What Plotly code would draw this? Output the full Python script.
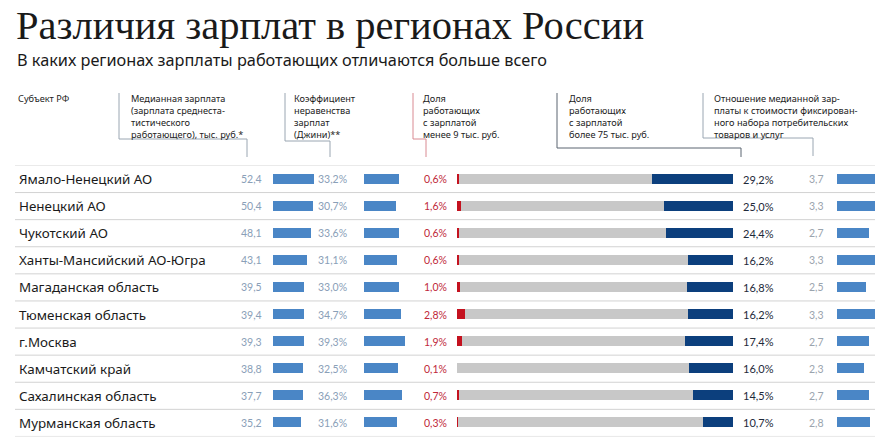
import plotly.graph_objects as go

W, H = 896, 445

regions = ["Ямало-Ненецкий АО", "Ненецкий АО", "Чукотский АО", "Ханты-Мансийский АО-Югра",
           "Магаданская область", "Тюменская область", "г.Москва", "Камчатский край",
           "Сахалинская область", "Мурманская область"]
median_salary = [52.4, 50.4, 48.1, 43.1, 39.5, 39.4, 39.3, 38.8, 37.7, 35.2]
gini = [33.2, 30.7, 33.6, 31.1, 33.0, 34.7, 39.3, 32.5, 36.3, 31.6]
share_below_9 = [0.6, 1.6, 0.6, 0.6, 1.0, 2.8, 1.9, 0.1, 0.7, 0.3]
share_above_75 = [29.2, 25.0, 24.4, 16.2, 16.8, 16.2, 17.4, 16.0, 14.5, 10.7]
share_middle = [100 - a - b for a, b in zip(share_below_9, share_above_75)]
ratio_basket = [3.7, 3.3, 2.7, 3.3, 2.5, 3.3, 2.7, 2.3, 2.7, 2.8]

title = "Различия зарплат в регионах России"
subtitle = "В каких регионах зарплаты работающих отличаются больше всего"
headers = [
    (17, ["Субъект РФ"]),
    (130, ["Медианная зарплата", "(зарплата среднеста-", "тистического", "работающего), тыс. руб.*"]),
    (293, ["Коэффициент", "неравенства", "зарплат", "(Джини)**"]),
    (422, ["Доля", "работающих", "с зарплатой", "менее 9 тыс. руб."]),
    (568, ["Доля", "работающих", "с зарплатой", "более 75 тыс. руб."]),
    (713, ["Отношение медианной зар-", "платы к стоимости фиксирован-", "ного набора потребительских", "товаров и услуг"]),
]

LIGHT = "#4a86c6"
DARK = "#0c3f7d"
GRAY = "#c8c8c8"
RED = "#c4121f"

def px(x):
    return x / W

def py(y):
    return 1 - y / H

def fmt(v, pct=False):
    s = f"{v:.1f}".replace(".", ",")
    return s + ("%" if pct else "")

fig = go.Figure()
common = dict(orientation="h", y=regions, width=0.37, hoverinfo="skip", showlegend=False,
              marker_line_width=0)
fig.add_trace(go.Bar(x=median_salary, xaxis="x", yaxis="y", marker_color=LIGHT, **common))
fig.add_trace(go.Bar(x=gini, xaxis="x2", yaxis="y", marker_color=LIGHT, **common))
fig.add_trace(go.Bar(x=share_below_9, xaxis="x3", yaxis="y", marker_color=RED, **common))
fig.add_trace(go.Bar(x=share_middle, xaxis="x3", yaxis="y", marker_color=GRAY, **common))
fig.add_trace(go.Bar(x=share_above_75, xaxis="x3", yaxis="y", marker_color=DARK, **common))
fig.add_trace(go.Bar(x=ratio_basket, xaxis="x4", yaxis="y", marker_color=LIGHT, **common))

row0, step = 179, 27.1
ytop = row0 - step / 2
ybot = row0 + 9.5 * step

hid = dict(visible=False, showgrid=False, zeroline=False, fixedrange=True)
fig.update_layout(
    width=W, height=H, margin=dict(l=0, r=0, t=0, b=0),
    paper_bgcolor="white", plot_bgcolor="rgba(0,0,0,0)",
    barmode="stack", bargap=0,
    xaxis=dict(domain=[px(273), px(323)], range=[0, 50 / 0.785], anchor="y", **hid),
    xaxis2=dict(domain=[px(364), px(414)], range=[0, 50 / 1.055], anchor="y", **hid),
    xaxis3=dict(domain=[px(457), px(733)], range=[0, 100], anchor="y", **hid),
    xaxis4=dict(domain=[px(837), px(875)], range=[0, 38 / 11.7], anchor="y", **hid),
    yaxis=dict(domain=[py(ybot), py(ytop)], range=[9.5, -0.5], type="category",
               categoryorder="array", categoryarray=regions, anchor="x", **hid),
)

ann = []
ann.append(dict(text=title, x=px(15), y=py(25), xref="paper", yref="paper", xanchor="left",
                yanchor="middle", showarrow=False, borderpad=0,
                font=dict(family="Liberation Serif", size=40.5, color="#1a1a1a")))
ann.append(dict(text=subtitle, x=px(16), y=py(60), xref="paper", yref="paper", xanchor="left",
                yanchor="middle", showarrow=False, borderpad=0,
                font=dict(family="Noto Sans", size=16.3, color="#1a1a1a")))

for hx, lines in headers:
    ann.append(dict(text="<br>".join(lines), x=px(hx), y=py(91), xref="paper", yref="paper",
                    xanchor="left", yanchor="top", align="left", showarrow=False, borderpad=0,
                    font=dict(family="Noto Sans", size=9.2, color="#222222")))

vfont = "Lato"
for i, r in enumerate(regions):
    ann.append(dict(text=r, x=px(17), y=r, xref="paper", yref="y", xanchor="left",
                    yanchor="middle", showarrow=False,
                    font=dict(family="Noto Sans", size=13.4, color="#1a1a1a")))
    ann.append(dict(text=fmt(median_salary[i]), x=0, y=r, xref="x", yref="y", xanchor="right",
                    xshift=-9, yanchor="middle", showarrow=False,
                    font=dict(family=vfont, size=10.5, color="#8aa0b8")))
    ann.append(dict(text=fmt(gini[i], True), x=0, y=r, xref="x2", yref="y", xanchor="right",
                    xshift=-15, yanchor="middle", showarrow=False,
                    font=dict(family=vfont, size=10.5, color="#8aa0b8")))
    ann.append(dict(text=fmt(share_below_9[i], True), x=0, y=r, xref="x3", yref="y", xanchor="right",
                    xshift=-8, yanchor="middle", showarrow=False,
                    font=dict(family=vfont, size=10.5, color="#c0283a")))
    ann.append(dict(text=fmt(share_above_75[i], True), x=100, y=r, xref="x3", yref="y", xanchor="left",
                    xshift=8, yanchor="middle", showarrow=False,
                    font=dict(family=vfont, size=11, color="#1e2a3a")))
    ann.append(dict(text=fmt(ratio_basket[i]), x=0, y=r, xref="x4", yref="y", xanchor="right",
                    xshift=-11, yanchor="middle", showarrow=False,
                    font=dict(family=vfont, size=10.5, color="#9aa4ae")))
fig.update_layout(annotations=ann)

shapes = []
for k in range(11):
    yy = k - 0.5
    shapes.append(dict(type="line", xref="paper", yref="y", x0=px(15), x1=px(875), y0=yy, y1=yy,
                       line=dict(color="#d2d2d2", width=1)))

def bracket(x0, yb, x1, yend, color):
    p = (f"M {px(x0)},{py(93)} L {px(x0)},{py(yb)} L {px(x1)},{py(yb)} L {px(x1)},{py(yend)}")
    return dict(type="path", xref="paper", yref="paper", path=p, line=dict(color=color, width=1))

shapes.append(bracket(119, 139, 247, 157, "#9aa6b2"))
shapes.append(bracket(285, 141, 330, 157, "#9aa6b2"))
shapes.append(bracket(413, 139, 426, 157, "#d98a92"))
shapes.append(bracket(557, 148, 741, 157, "#5a6470"))
shapes.append(bracket(703, 138, 813, 156, "#9aa6b2"))
fig.update_layout(shapes=shapes)

fig.write_html("out.html", config={"displayModeBar": False},
               post_script="document.body.style.margin='0';document.body.style.padding='0';")
